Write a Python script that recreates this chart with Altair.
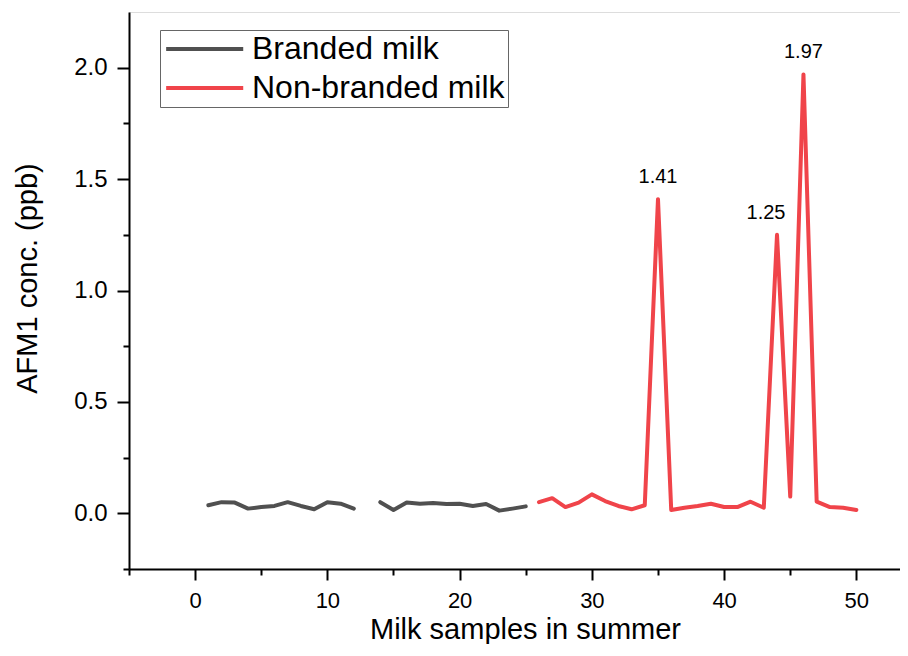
import altair as alt
import pandas as pd

# ---- data ----
branded_a_x = [1, 2, 3, 4, 5, 6, 7, 8, 9, 10, 11, 12]
branded_a_y = [0.036, 0.050, 0.048, 0.021, 0.028, 0.033, 0.050, 0.033, 0.018, 0.050, 0.043, 0.021]
branded_b_x = [14, 15, 16, 17, 18, 19, 20, 21, 22, 23, 24, 25]
branded_b_y = [0.050, 0.015, 0.048, 0.043, 0.046, 0.042, 0.043, 0.033, 0.042, 0.012, 0.021, 0.031]
nonbranded_x = list(range(26, 51))
nonbranded_y = [0.050, 0.068, 0.028, 0.048, 0.085, 0.055, 0.033, 0.018, 0.036, 1.41,
                0.015, 0.025, 0.033, 0.043, 0.028, 0.028, 0.052, 0.025, 1.25, 0.075,
                1.97, 0.052, 0.028, 0.025, 0.015]
series_names = ["Branded milk", "Non-branded milk"]
series_colors = ["#505050", "#F0444A"]
peak_x = [35, 44, 46]
peak_y = [1.41, 1.25, 1.97]
peak_text = ["1.41", "1.25", "1.97"]

x_ticks = list(range(-5, 55, 5))
y_ticks = [-0.25, 0.0, 0.25, 0.5, 0.75, 1.0, 1.25, 1.5, 1.75, 2.0]

rows = []
for x, y in zip(branded_a_x, branded_a_y):
    rows.append({"x": x, "y": y, "series": series_names[0], "seg": "a"})
for x, y in zip(branded_b_x, branded_b_y):
    rows.append({"x": x, "y": y, "series": series_names[0], "seg": "b"})
for x, y in zip(nonbranded_x, nonbranded_y):
    rows.append({"x": x, "y": y, "series": series_names[1], "seg": "c"})
df = pd.DataFrame(rows)
peaks = pd.DataFrame({"x": peak_x, "y": peak_y, "t": peak_text})

FONT = "Liberation Sans"

xscale = alt.Scale(domain=[-5, 53.3], nice=False, zero=False)
yscale = alt.Scale(domain=[-0.25, 2.25], nice=False, zero=False)

x_axis = alt.Axis(
    values=x_ticks,
    labelExpr="datum.value % 10 === 0 ? datum.label : ''",
    tickSize={"condition": {"test": "datum.value % 10 === 0", "value": 11}, "value": 6},
    grid=False, labelFontSize=22, labelFont=FONT, labelColor="black",
    labelPadding=10, title="Milk samples in summer", titleFontSize=29,
    titleFont=FONT, titleFontWeight="normal", titleColor="black", titlePadding=27,
    titleBaseline="alphabetic", titleX=396,
    domainColor="black", domainWidth=2, tickColor="black", tickWidth=2,
    labelFlush=False,
)
y_axis = alt.Axis(
    values=y_ticks,
    labelExpr="abs(round(datum.value * 4)) % 2 === 0 ? format(datum.value, '.1f') : ''",
    tickSize={"condition": {"test": "abs(round(datum.value * 4)) % 2 === 0", "value": 12}, "value": 6},
    grid=False, labelFontSize=24, labelFont=FONT, labelColor="black",
    labelPadding=10, title="AFM1 conc. (ppb)", titleFontSize=29,
    titleFont=FONT, titleFontWeight="normal", titleColor="black", titlePadding=31,
    titleY=266,
    domainColor="black", domainWidth=2, tickColor="black", tickWidth=2,
    labelFlush=False,
)

lines = alt.Chart(df).mark_line(strokeWidth=4, strokeCap="round", strokeJoin="round").encode(
    x=alt.X("x:Q", scale=xscale, axis=x_axis),
    y=alt.Y("y:Q", scale=yscale, axis=y_axis),
    color=alt.Color(
        "series:N",
        scale=alt.Scale(domain=series_names, range=series_colors),
        legend=alt.Legend(
            title=None, orient="none", legendX=31, legendY=18,
            symbolType="M-1,0H5", symbolSize=660, symbolStrokeWidth=4,
            labelFontSize=32, labelFont=FONT, labelColor="black", labelOffset=57,
            labelLimit=0, padding=3, rowPadding=7, strokeColor="#666666",
        ),
    ),
    detail="seg:N",
)

labels_main = alt.Chart(peaks).transform_filter("datum.t !== '1.25'").mark_text(
    fontSize=20, font=FONT, color="black", dy=-22, baseline="middle"
).encode(x="x:Q", y="y:Q", text="t:N")

labels_side = alt.Chart(peaks).transform_filter("datum.t === '1.25'").mark_text(
    fontSize=20, font=FONT, color="black", dy=-22, dx=-11, baseline="middle"
).encode(x="x:Q", y="y:Q", text="t:N")

chart = alt.layer(lines, labels_main, labels_side).properties(
    width=771, height=557,
    autosize=alt.AutoSizeParams(type="none"),
    padding={"left": 121, "top": 4, "right": 0, "bottom": 75},
).configure_view(stroke=None).configure(background="white")

chart.save("out.html", embed_options={"renderer": "svg", "actions": False})
